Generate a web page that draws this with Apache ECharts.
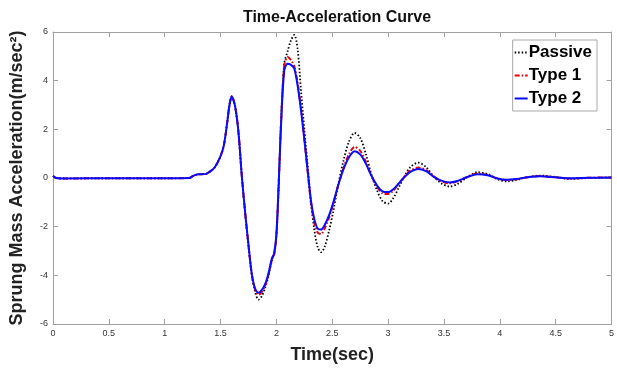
<!DOCTYPE html>
<html>
<head>
<meta charset="utf-8">
<script src="https://cdn.jsdelivr.net/npm/echarts@6/dist/echarts.min.js"></script>
<style>
  html, body { margin: 0; padding: 0; background: #fff; }
  #chart { width: 617px; height: 369px; }
</style>
</head>
<body>
<div id="chart"></div>
<script>
// time samples (sec)
const times = [0, 0.03, 0.1, 0.5, 1.0, 1.22, 1.26, 1.3, 1.37, 1.41, 1.45, 1.5, 1.53, 1.56, 1.58, 1.6, 1.63, 1.66, 1.69,
  1.72, 1.75, 1.78, 1.81, 1.84, 1.87, 1.9, 1.93, 1.96, 1.98, 2.0, 2.02, 2.04, 2.07, 2.1, 2.13, 2.16, 2.19, 2.22, 2.25,
  2.28, 2.31, 2.34, 2.37, 2.4, 2.43, 2.47, 2.51, 2.55, 2.6, 2.65, 2.7, 2.75, 2.8, 2.85, 2.9, 2.95, 3.0, 3.05, 3.1,
  3.15, 3.2, 3.27, 3.34, 3.4, 3.47, 3.55, 3.62, 3.7, 3.8, 3.9, 3.98, 4.06, 4.15, 4.25, 4.36, 4.5, 4.63, 4.8, 5.0];

const passive = [0.08, 0.0, -0.02, -0.01, -0.01, 0.0, 0.1, 0.15, 0.17, 0.28, 0.45, 0.9, 1.35, 2.3, 3.0, 3.35, 2.95, 1.9, 0.1,
  -1.45, -2.8, -4.0, -4.7, -5.0, -4.85, -4.5, -4.0, -3.4, -3.1, -2.4, -0.5, 2.2, 4.7, 5.2, 5.65, 5.88, 5.3, 3.6, 2.0,
  0.5, -1.0, -2.15, -2.85, -3.05, -2.85, -2.2, -1.35, -0.35, 0.7, 1.5, 1.85, 1.65, 1.0, 0.15, -0.5, -0.95, -1.05, -0.8, -0.35,
  0.1, 0.45, 0.63, 0.45, 0.1, -0.2, -0.35, -0.25, 0.0, 0.24, 0.15, -0.05, -0.14, -0.08, 0.04, 0.1, 0.04, -0.04, 0.0, 0.02];

const type1 = [0.08, 0.0, -0.02, -0.01, -0.01, 0.0, 0.1, 0.15, 0.17, 0.28, 0.45, 0.9, 1.35, 2.3, 3.0, 3.35, 2.95, 1.9, 0.1,
  -1.4, -2.75, -3.97, -4.6, -4.8, -4.68, -4.4, -3.95, -3.35, -3.15, -2.35, -0.3, 2.1, 4.6, 4.97, 4.85, 4.6, 3.9, 2.85, 1.6,
  0.25, -1.05, -1.85, -2.25, -2.3, -2.1, -1.65, -1.05, -0.35, 0.4, 0.98, 1.28, 1.12, 0.68, 0.1, -0.35, -0.63, -0.66, -0.5, -0.2,
  0.08, 0.3, 0.43, 0.32, 0.1, -0.12, -0.22, -0.14, 0.03, 0.18, 0.12, -0.02, -0.08, -0.05, 0.03, 0.08, 0.03, -0.02, 0.01, 0.02];

const type2 = [0.08, 0.0, -0.02, -0.01, -0.01, 0.0, 0.1, 0.15, 0.17, 0.28, 0.45, 0.9, 1.35, 2.3, 3.0, 3.35, 2.95, 1.9, 0.1,
  -1.4, -2.75, -3.95, -4.55, -4.72, -4.6, -4.35, -3.9, -3.3, -3.1, -2.3, -0.3, 2.0, 4.4, 4.7, 4.65, 4.5, 3.8, 2.8, 1.6,
  0.3, -0.95, -1.7, -2.08, -2.12, -1.95, -1.55, -1.0, -0.35, 0.35, 0.85, 1.1, 0.97, 0.6, 0.1, -0.3, -0.55, -0.58, -0.45, -0.2,
  0.05, 0.25, 0.37, 0.28, 0.08, -0.1, -0.18, -0.12, 0.02, 0.15, 0.1, -0.02, -0.07, -0.04, 0.03, 0.07, 0.03, -0.01, 0.01, 0.02];

const seriesNames = ["Passive", "Type 1", "Type 2"];

const pairs = (vals) => times.map((t, i) => [t, vals[i]]);

const font = "Liberation Sans";
const boxLine = { show: true, onZero: false, lineStyle: { color: "#a0a0a0", width: 1 } };
const inTick = { show: true, inside: true, length: 5, lineStyle: { color: "#a0a0a0" } };

const chart = echarts.init(document.getElementById("chart"));
chart.setOption({
  animation: false,
  backgroundColor: "#fff",
  textStyle: { fontFamily: font },
  title: {
    text: "Time-Acceleration Curve",
    left: 332, top: 5, textAlign: "center",
    textStyle: { fontFamily: font, fontSize: 16, fontWeight: "bold", color: "#111" },
  },
  grid: { left: 52, right: 5, top: 32, bottom: 42 },
  legend: {
    data: seriesNames,
    orient: "vertical",
    right: 20, top: 40,
    backgroundColor: "#fff",
    borderColor: "#a8a8a8", borderWidth: 1,
    padding: [4, 5, 4, 1],
    itemGap: 6, itemWidth: 13, itemHeight: 12,
    itemStyle: { opacity: 0 },
    textStyle: { fontFamily: font, fontSize: 17, fontWeight: "bold", color: "#000", padding: [0, 0, 0, -4] },
  },
  xAxis: [
    {
      type: "value", min: 0, max: 5, interval: 0.5,
      name: "Time(sec)", nameLocation: "middle", nameGap: 22,
      nameTextStyle: { fontFamily: font, fontSize: 18, fontWeight: "bold", color: "#222" },
      axisLine: boxLine, axisTick: inTick, splitLine: { show: false },
      axisLabel: { fontSize: 9, color: "#333", margin: 5 },
    },
    {
      type: "value", min: 0, max: 5, interval: 0.5, position: "top",
      axisLine: boxLine, axisTick: inTick, splitLine: { show: false }, axisLabel: { show: false },
    },
  ],
  yAxis: [
    {
      type: "value", min: -6, max: 6, interval: 2,
      name: "Sprung Mass Acceleration(m/sec²)", nameLocation: "middle", nameGap: 27,
      nameTextStyle: { fontFamily: font, fontSize: 18, fontWeight: "bold", color: "#222" },
      axisLine: boxLine, axisTick: inTick, splitLine: { show: false },
      axisLabel: { fontSize: 9, color: "#333", margin: 5 },
    },
    {
      type: "value", min: -6, max: 6, interval: 2, position: "right",
      axisLine: boxLine, axisTick: inTick, splitLine: { show: false }, axisLabel: { show: false },
    },
  ],
  series: [
    {
      name: seriesNames[0], type: "line", data: pairs(passive), smooth: 0.3,
      showSymbol: false, symbol: "none", z: 1,
      lineStyle: { color: "#000", width: 1.8, type: [1.5, 2] },
      itemStyle: { color: "#000" },
    },
    {
      name: seriesNames[1], type: "line", data: pairs(type1), smooth: 0.3,
      showSymbol: false, symbol: "none", z: 2,
      lineStyle: { color: "#e8000b", width: 2, type: [5, 2, 1.5, 2] },
      itemStyle: { color: "#e8000b" },
    },
    {
      name: seriesNames[2], type: "line", data: pairs(type2), smooth: 0.3,
      showSymbol: false, symbol: "none", z: 3,
      lineStyle: { color: "#0a0aff", width: 2 },
      itemStyle: { color: "#0a0aff" },
    },
  ],
});
</script>
</body>
</html>
